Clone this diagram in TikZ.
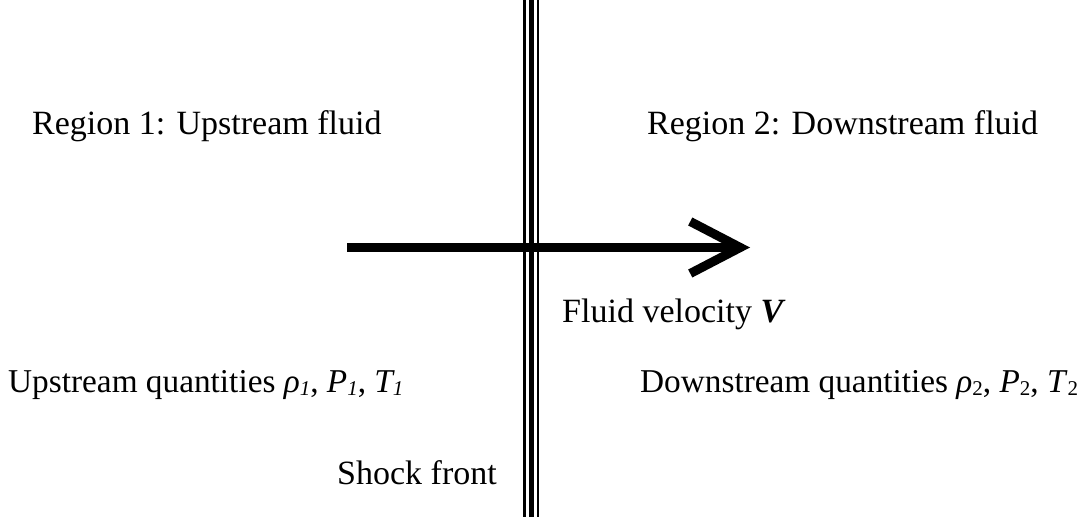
\documentclass[tikz,border=0pt]{standalone}
\usepackage{fontspec}
\setmainfont{Liberation Serif}
\usetikzlibrary{arrows.meta,positioning}
\newcommand{\qsub}[1]{\raisebox{-3pt}{\fontsize{21}{21}\selectfont #1}}
\tikzset{
  label/.style={anchor=base west, inner sep=0pt, font=\fontsize{34}{40}\selectfont},
  qlabel/.style={label, font=\fontsize{33.3}{40}\selectfont},
  thinwall/.style={line width=2.5pt},
  thickwall/.style={line width=5.5pt},
  flow/.style={line width=9pt, -{Straight Barb[length=50pt, width=52pt, line width=9pt]}}
}
\begin{document}
\begin{tikzpicture}[x=1pt, y=1pt]
  \useasboundingbox (0,0) rectangle (1088,517);
  % shock front
  \coordinate (ftop) at (531.5,517); \coordinate (fbot) at (531.5,0);
  \draw[thinwall] ([xshift=-7pt]ftop) -- ([xshift=-7pt]fbot);
  \draw[thickwall] (ftop) -- (fbot);
  \draw[thinwall] ([xshift=6.5pt]ftop) -- ([xshift=6.5pt]fbot);
  % velocity arrow
  \coordinate (vin) at (347,269.5); \coordinate (vout) at (750,269.5);
  \draw[flow] (vin) -- (vout);
  % labels
  \node[label] (r1) at (32,382) {Region 1: Upstream fluid};
  \node[label] (r2) at (647,382) {Region 2: Downstream fluid};
  \node[label] (vel) at (562,194) {Fluid velocity \textbf{\textit{V}}};
  \node[qlabel] (q1) at (8,124) {Upstream quantities \textit{ρ\qsub{1}}, \textit{P\qsub{1}}, \textit{T\qsub{1}}};
  \node[qlabel] (q2) at (640,124) {Downstream quantities \textit{ρ}\qsub{2}, \textit{P}\qsub{2}, \textit{T}\qsub{2}};
  \node[label] (sf) at (337,32) {Shock front};
\end{tikzpicture}
\end{document}
